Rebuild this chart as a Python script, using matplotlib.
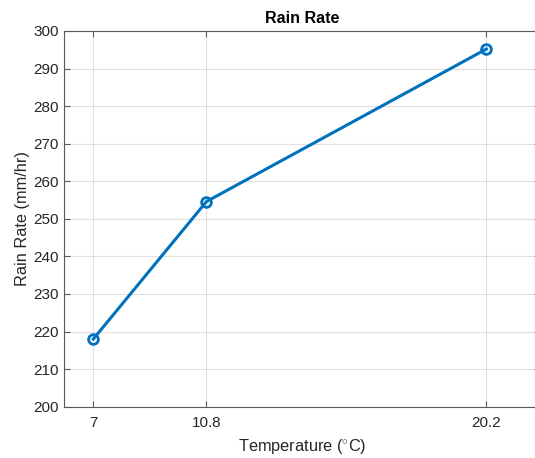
import matplotlib
matplotlib.use("Agg")
import matplotlib.pyplot as plt

# Rain rate measured at three temperatures
temperature = [7, 10.8, 20.2]
rain_rate = [218.0, 254.6, 295.2]
x_ticks = [7, 10.8, 20.2]
x_tick_labels = ["7", "10.8", "20.2"]
y_ticks = list(range(200, 301, 10))

plt.rcParams['font.family'] = ['Liberation Sans', 'DejaVu Sans']
plt.rcParams['mathtext.fontset'] = 'custom'
plt.rcParams['mathtext.rm'] = 'Liberation Sans'

W, H = 535, 458
fig = plt.figure(figsize=(W / 100, H / 100), dpi=100)

left, right, top, bottom = 63.5, 540.0, 31.0, 406.7
ax = fig.add_axes([left / W, 1 - bottom / H, (right - left) / W, (bottom - top) / H])

line_color = (0, 0.447, 0.741)
ax.plot(temperature, rain_rate, color=line_color, linewidth=2.2,
        marker='o', markersize=7, markerfacecolor='none',
        markeredgewidth=2.0, markeredgecolor=line_color, zorder=3)

ax.set_xlim(6, 22)
ax.set_ylim(200, 300)
ax.set_xticks(x_ticks)
ax.set_xticklabels(x_tick_labels)
ax.set_yticks(y_ticks)

axis_color = (0.15, 0.15, 0.15)
ax.grid(True, color=(0.88, 0.88, 0.88), linewidth=0.8)
ax.set_axisbelow(True)
for side in ['left', 'bottom', 'top', 'right']:
    ax.spines[side].set_color((0.35, 0.35, 0.35))
    ax.spines[side].set_linewidth(0.8)
ax.tick_params(direction='in', length=4, width=0.8, color=(0.35, 0.35, 0.35),
               labelsize=11, labelcolor=axis_color, top=True, right=True)
ax.tick_params(axis='x', pad=7)
ax.tick_params(axis='y', pad=3.5)

ax.set_title("Rain Rate", fontsize=11.5, fontweight='bold', color='black', pad=6)
ax.set_xlabel(r"Temperature ($^{\circ}$C)", fontsize=11.8, color=axis_color, labelpad=5)
ax.set_ylabel("Rain Rate (mm/hr)", fontsize=11.8, color=axis_color, labelpad=2.5)

fig.savefig("out.png", dpi=100)
